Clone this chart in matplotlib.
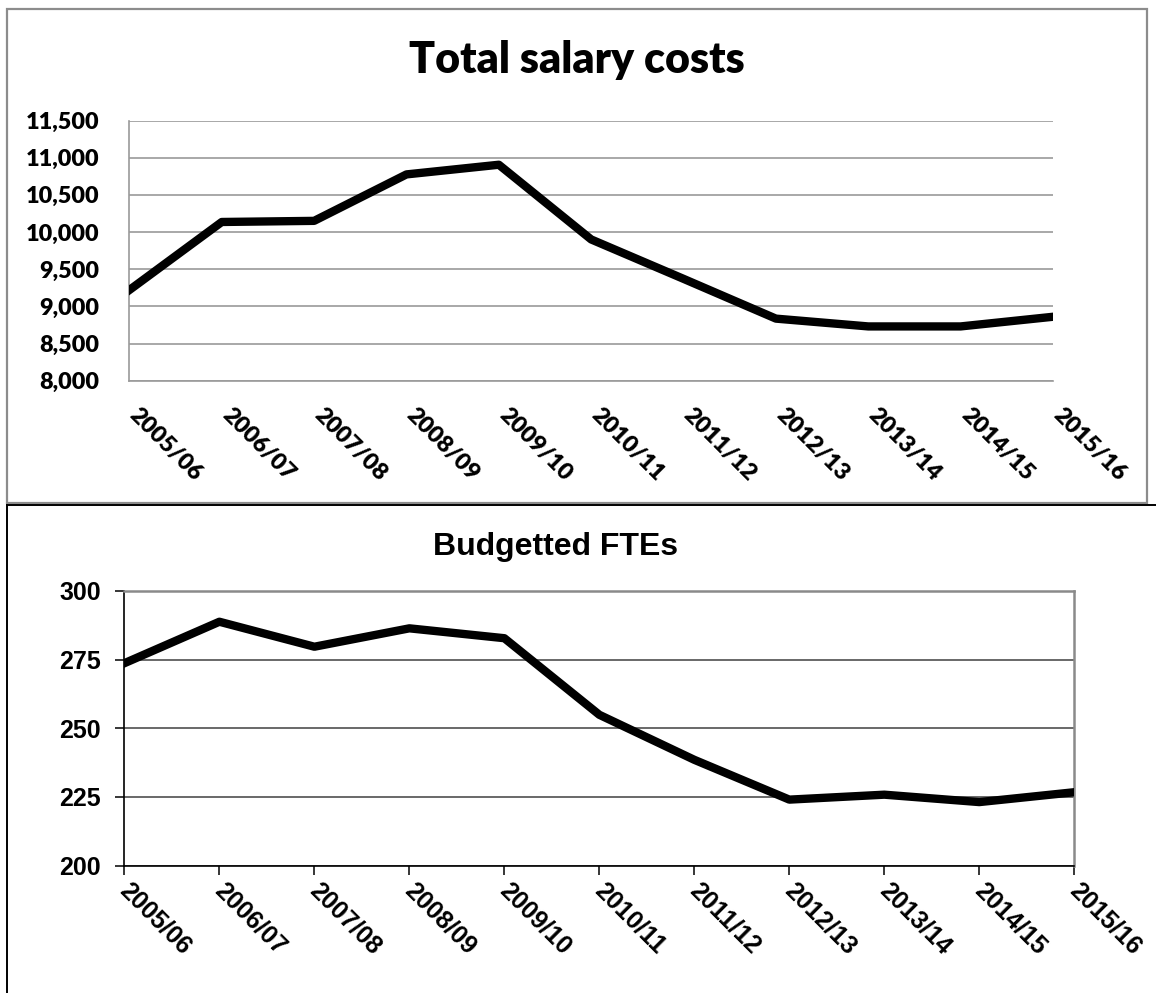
import matplotlib
matplotlib.use("Agg")
from matplotlib import pyplot as plt
from matplotlib.lines import Line2D
from matplotlib.patches import Rectangle
from matplotlib.ticker import FuncFormatter
import matplotlib.transforms as mtransforms

# data
years = ["2005/06", "2006/07", "2007/08", "2008/09", "2009/10", "2010/11",
         "2011/12", "2012/13", "2013/14", "2014/15", "2015/16"]
salary_costs = [9220, 10135, 10150, 10775, 10905, 9900, 9370, 8835, 8730, 8730, 8860]
budgeted_ftes = [273.7, 288.8, 279.7, 286.4, 282.8, 254.9, 238.5, 224.0, 225.8, 223.1, 226.7]
salary_ticks = [8000, 8500, 9000, 9500, 10000, 10500, 11000, 11500]
fte_ticks = [200, 225, 250, 275, 300]

W, H = 1156, 993
fig = plt.figure(figsize=(W / 100, H / 100), dpi=100)


def box(left, top, right, bottom):
    # pixel box -> figure fraction rect
    return [left / W, 1 - bottom / H, (right - left) / W, (bottom - top) / H]


def shift_labels(labels, dx_px):
    offset = mtransforms.ScaledTranslation(dx_px / 100, 0, fig.dpi_scale_trans)
    for lab in labels:
        lab.set_transform(lab.get_transform() + offset)


x = list(range(len(years)))

# ---- top chart: Total salary costs ----
top_font = "Lato"
ax1 = fig.add_axes(box(129.4, 120.5, 1053, 380.7))
ax1.plot(x, salary_costs, color="black", lw=6, solid_joinstyle="round", zorder=3)
ax1.set_xlim(0, len(years) - 1)
ax1.set_ylim(salary_ticks[0], salary_ticks[-1])
ax1.set_yticks(salary_ticks)
ax1.yaxis.set_major_formatter(FuncFormatter(lambda v, p: f"{v:,.0f}"))
ax1.set_xticks(x)
ax1.set_xticklabels(years, rotation=-45, ha="left", va="top")
ax1.grid(axis="y", color="#9a9a9a", lw=1.2)
ax1.set_axisbelow(True)
for s in ["top", "right"]:
    ax1.spines[s].set_visible(False)
for s in ["left", "bottom"]:
    ax1.spines[s].set_color("#9a9a9a")
    ax1.spines[s].set_linewidth(1.2)
ax1.tick_params(axis="y", length=0, pad=21.6)
ax1.tick_params(axis="x", length=0, pad=17)
for lab in ax1.get_yticklabels() + ax1.get_xticklabels():
    lab.set_fontfamily(top_font)
    lab.set_fontweight("heavy")
    lab.set_fontsize(16.8)
shift_labels(ax1.get_xticklabels(), -4)

fig.text(577 / W, 1 - 73 / H, "Total salary costs", ha="center", va="baseline",
         fontsize=31, fontweight="heavy", family=top_font)

# ---- bottom chart: Budgetted FTEs ----
bot_font = "Liberation Sans"
ax2 = fig.add_axes(box(124.4, 591, 1074.3, 865.5))
ax2.plot(x, budgeted_ftes, color="black", lw=6, solid_joinstyle="round", zorder=3)
ax2.set_xlim(0, len(years) - 1)
ax2.set_ylim(fte_ticks[0], fte_ticks[-1])
ax2.set_yticks(fte_ticks)
ax2.set_xticks(x)
ax2.set_xticklabels(years, rotation=-45, ha="left", va="top")
ax2.grid(axis="y", color="#404040", lw=1.1)
ax2.set_axisbelow(True)
for s in ["top", "right"]:
    ax2.spines[s].set_color("#8a8a8a")
    ax2.spines[s].set_linewidth(1.8)
for s in ["left", "bottom"]:
    ax2.spines[s].set_color("black")
    ax2.spines[s].set_linewidth(1.2)
ax2.tick_params(axis="y", length=6.5, width=1.1, pad=10.5, color="black")
ax2.tick_params(axis="x", length=6.5, width=1.1, pad=3, color="black")
for lab in ax2.get_yticklabels() + ax2.get_xticklabels():
    lab.set_fontfamily(bot_font)
    lab.set_fontweight("bold")
    lab.set_fontsize(18)
shift_labels(ax2.get_xticklabels(), -9)

fig.text(556 / W, 1 - 555 / H, "Budgetted FTEs", ha="center", va="baseline",
         fontsize=23, fontweight="bold", family=bot_font)

# ---- chart frames ----
fig.add_artist(Rectangle((7 / W, 1 - 503 / H), (1146.7 - 7) / W, (503 - 9) / H,
                         transform=fig.transFigure, fill=False,
                         edgecolor="#8c8c8c", lw=1.6))
fig.add_artist(Line2D([7 / W, 1], [1 - 505 / H, 1 - 505 / H],
                      transform=fig.transFigure, color="black", lw=1.4))
fig.add_artist(Line2D([7 / W, 7 / W], [1 - 505 / H, 0],
                      transform=fig.transFigure, color="black", lw=1.4))

fig.savefig("out.png", dpi=100)
